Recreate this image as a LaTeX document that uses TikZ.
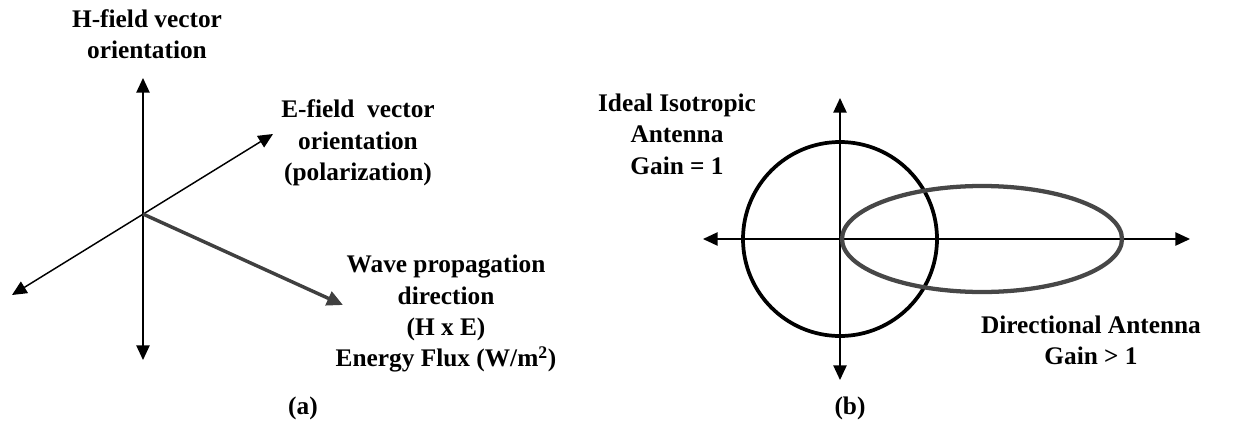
\documentclass[tikz,border=0pt]{standalone}
\usepackage{fontspec}
\setmainfont{Liberation Serif}
\usepackage{tikz}
\usetikzlibrary{
  arrows.meta,
  positioning
}
\tikzset{
  lbl/.style={
    font=\fontsize{19}{23.5}\selectfont\bfseries,
    align=center,
    inner sep=0pt,
  },
  axis/.style={
    {Triangle[length=11pt,width=10pt]}-{Triangle[length=11pt,width=10pt]},
    line width=1.1pt,
    draw=black,
  },
  wavearr/.style={
    -{Triangle[length=12pt,width=11pt]},
    line width=2.6pt,
    draw=black!75,
  },
  isoline/.style={
    line width=2.8pt,
    draw=black,
  },
  dirline/.style={
    line width=3.2pt,
    draw=black!72,
  },
}

\begin{document}
\begin{tikzpicture}[x=0.75pt, y=-0.75pt]
  \useasboundingbox (0,0) rectangle (1234,446);

  % Part (a) --- field vectors
  \coordinate (o)    at (143,214);
  \coordinate (htop) at (143,78);
  \coordinate (hbot) at (143,360);
  \coordinate (eback) at (12,295);
  \coordinate (etip)  at (273,134);
  \coordinate (wtip)  at (343,305);

  \draw[axis] (hbot) -- (htop);
  \draw[axis] (eback) -- (etip);
  \draw[wavearr] (o) -- (wtip);

  \node[lbl] (hlab) at (147,34) {H-field vector\\orientation};
  \node[lbl] (elab) at (358,143) {E-field~ vector\\orientation\\(polarization)};
  \node[lbl] (wlab) at (446,314)
    {Wave propagation\\direction\\(H x E)\\Energy Flux (W/m\textsuperscript{2})};
  \node[lbl] (alab) at (303,408) {(a)};

  % Part (b) --- radiation patterns
  \coordinate (c)    at (840,239);
  \coordinate (xl)   at (703,239);
  \coordinate (xr)   at (1190,239);
  \coordinate (yt)   at (840,98);
  \coordinate (yb)   at (840,380);
  \coordinate (lobe) at (982,239);

  \draw[axis] (xl) -- (xr);
  \draw[axis] (yb) -- (yt);
  \draw[isoline] (c) circle (97);
  \draw[dirline] (lobe) ellipse [x radius=140, y radius=53];

  \node[lbl] (isolab) at (677,134) {Ideal Isotropic\\Antenna\\Gain = 1};
  \node[lbl] (dirlab) at (1091,340) {Directional Antenna\\Gain > 1};
  \node[lbl] (blab) at (850,408) {(b)};
\end{tikzpicture}
\end{document}
